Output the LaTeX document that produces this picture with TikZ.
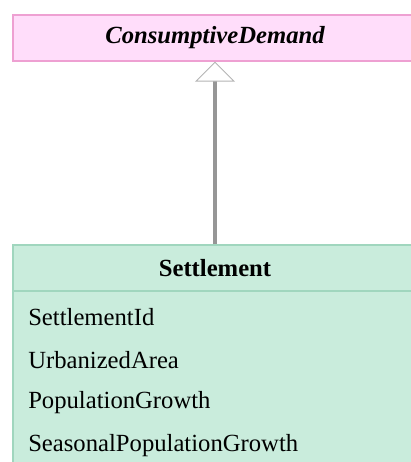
\documentclass[tikz,border=0pt]{standalone}
\usepackage{fontspec}
\setmainfont{Liberation Serif}
\usetikzlibrary{arrows.meta}
\definecolor{demandfill}{RGB}{255,221,250}
\definecolor{demanddraw}{RGB}{238,160,210}
\definecolor{settlefill}{RGB}{201,236,220}
\definecolor{settledraw}{RGB}{160,214,190}
\definecolor{linkgray}{RGB}{150,150,150}

\begin{document}
\begin{tikzpicture}[
  x=0.75pt, y=-0.75pt,
  demandbox/.style={rectangle, draw=demanddraw, fill=demandfill, line width=1.2pt, anchor=north west, minimum width=430*0.75pt, minimum height=46*0.75pt, inner sep=0pt},
  settlebox/.style={rectangle, draw=settledraw, fill=settlefill, line width=1.2pt, anchor=north west, minimum width=430*0.75pt, inner sep=0pt},
  title/.style={font=\fontsize{18.5}{22}\selectfont\bfseries},
  attr/.style={anchor=west, inner sep=0pt, font=\fontsize{18.5}{22}\selectfont},
  generalize/.style={draw=linkgray, line width=2.4pt, -{Triangle[open, width=30pt, length=15pt, line width=0.7pt, color=linkgray!70, fill=white]}}
]
  \useasboundingbox (0,0) rectangle (411,462);
  \clip (0,0) rectangle (411,462);

  % abstract class
  \node[demandbox] (demand) at (12,14) {};
  \node[title, font=\fontsize{18.5}{22}\selectfont\bfseries\itshape] (demandname) at (215,38) {ConsumptiveDemand};

  % class with attributes
  \node[settlebox, minimum height=46*0.75pt] (settle) at (12,244) {};
  \node[settlebox, minimum height=190*0.75pt] (settleattr) at (12,290) {};
  \node[title] (settlename) at (215,268) {Settlement};
  \node[attr] (a1) at (28,317) {SettlementId};
  \node[attr] (a2) at (28,360) {UrbanizedArea};
  \node[attr] (a3) at (28,403) {PopulationGrowth};
  \node[attr] (a4) at (28,446) {SeasonalPopulationGrowth};

  % inheritance
  \draw[generalize] (settlename |- settle.north) -- (demandname |- demand.south);
\end{tikzpicture}
\end{document}
